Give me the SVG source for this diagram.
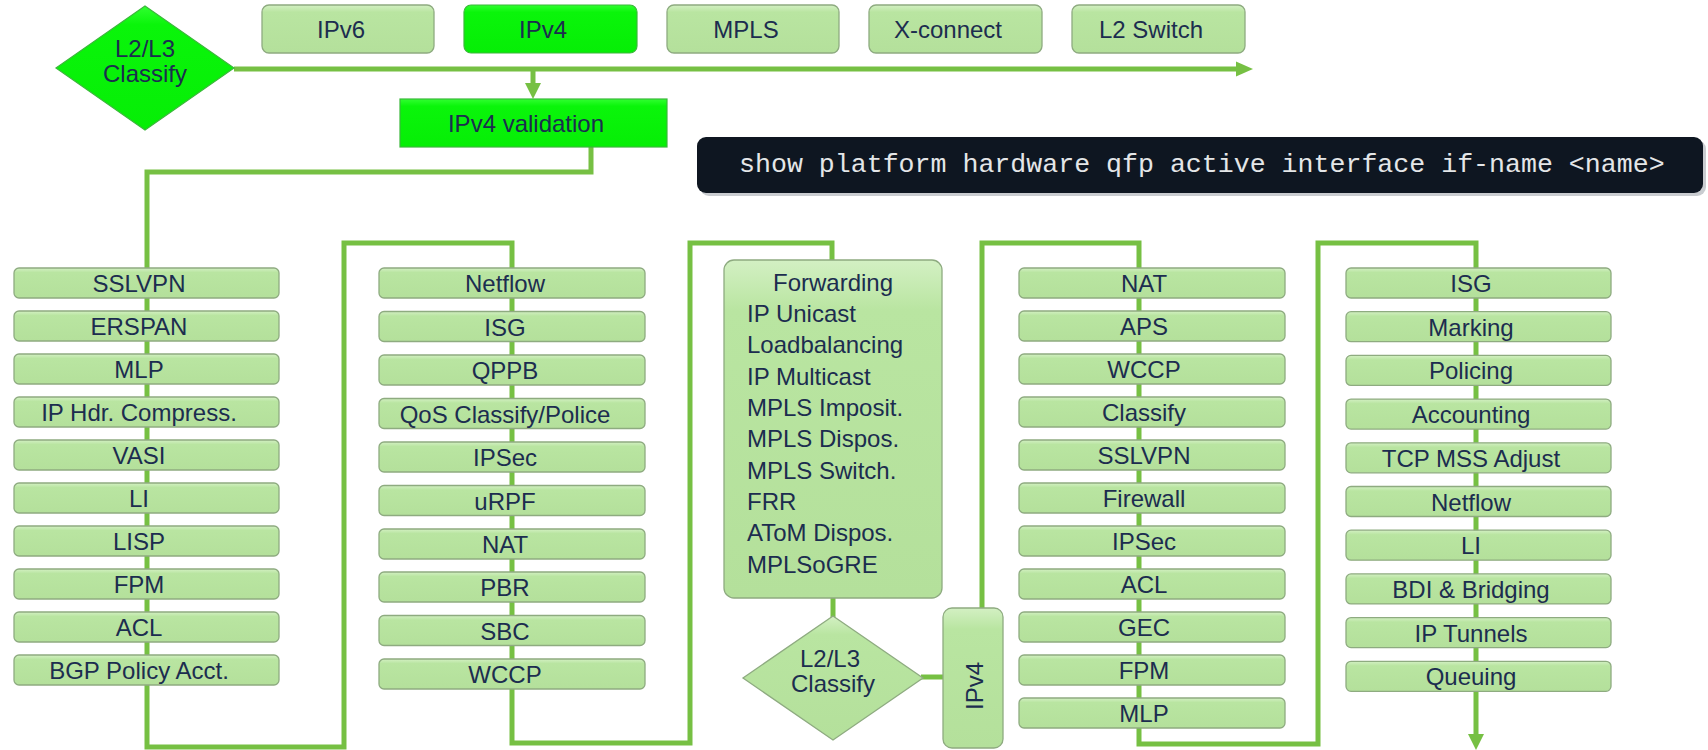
<svg xmlns="http://www.w3.org/2000/svg" width="1708" height="750" viewBox="0 0 1708 750">
<defs>
<linearGradient id="lg" x1="0" y1="0" x2="0" y2="1">
<stop offset="0" stop-color="#d3f0c3"/>
<stop offset="0.15" stop-color="#b9e5a1"/>
<stop offset="1" stop-color="#b4e09b"/>
</linearGradient>
<linearGradient id="bg" x1="0" y1="0" x2="0" y2="1">
<stop offset="0" stop-color="#30ff30"/>
<stop offset="0.15" stop-color="#0af50a"/>
<stop offset="1" stop-color="#06ee06"/>
</linearGradient>
<style>
.b{fill:url(#lg);stroke:#8eab80;stroke-width:1.3}
.g{fill:url(#bg);stroke:#3bb83b;stroke-width:1.2}
.t{font-family:"Liberation Sans",Arial,sans-serif;font-size:24px;fill:#1c2d4f;text-anchor:middle}
.f{font-family:"Liberation Sans",Arial,sans-serif;font-size:24px;fill:#1c2d4f}
.c{fill:none;stroke:#76c043;stroke-width:5;stroke-linejoin:miter}
.a{fill:#76c043}
.m{font-family:"Liberation Mono","Courier New",monospace;font-size:26.6px;fill:#e4e6e8}
</style>
</defs>
<rect width="1708" height="750" fill="#ffffff"/>

<g id="connectors">
<path class="c" d="M234,69 H1238"/>
<polygon class="a" points="1236,61.5 1253,69 1236,76.5"/>
<path class="c" d="M533,69 V85"/>
<polygon class="a" points="525,83 541,83 533,99"/>
<path class="c" d="M591,147 V172 H147 V747 H344 V243 H512 V743 H690 V243 H832 V262"/>
<path class="c" d="M833,596 V618"/>
<path class="c" d="M921,677 H945"/>
<path class="c" d="M982,610 V243 H1139 V744 H1318 V243 H1476 V736"/>
<polygon class="a" points="1468,734 1484,734 1476,750"/>
</g>

<g id="classify1">
<polygon class="g" points="145,6 234,68 145,130 56,68"/>
<text class="t" x="145" y="57">L2/L3</text>
<text class="t" x="145" y="82">Classify</text>
</g>

<g id="top-ipv6"><rect class="b" x="262" y="5" width="172" height="48" rx="7"/><text class="t" x="341" y="38">IPv6</text></g>
<g id="top-ipv4"><rect class="g" x="464" y="5" width="173" height="48" rx="7"/><text class="t" x="543" y="38">IPv4</text></g>
<g id="top-mpls"><rect class="b" x="667" y="5" width="172" height="48" rx="7"/><text class="t" x="746" y="38">MPLS</text></g>
<g id="top-xconnect"><rect class="b" x="869" y="5" width="173" height="48" rx="7"/><text class="t" x="948" y="38">X-connect</text></g>
<g id="top-l2switch"><rect class="b" x="1072" y="5" width="173" height="48" rx="7"/><text class="t" x="1151" y="38">L2 Switch</text></g>

<g id="ipv4-validation"><rect class="g" x="400" y="99" width="267" height="48"/><text class="t" x="526" y="132">IPv4 validation</text></g>

<g id="command">
<rect x="700" y="140" width="1006" height="56" rx="9" fill="#c9ccd0"/>
<rect x="697" y="137" width="1006" height="56" rx="9" fill="#0e1621"/>
<text class="m" x="739" y="172">show platform hardware qfp active interface if-name &lt;name&gt;</text>
</g>

<g id="col1">
<g id="c1-sslvpn"><rect class="b" x="14" y="268" width="265" height="30" rx="5"/><text class="t" x="139" y="292">SSLVPN</text></g>
<g id="c1-erspan"><rect class="b" x="14" y="311" width="265" height="30" rx="5"/><text class="t" x="139" y="335">ERSPAN</text></g>
<g id="c1-mlp"><rect class="b" x="14" y="354" width="265" height="30" rx="5"/><text class="t" x="139" y="378">MLP</text></g>
<g id="c1-iphdr"><rect class="b" x="14" y="397" width="265" height="30" rx="5"/><text class="t" x="139" y="421">IP Hdr. Compress.</text></g>
<g id="c1-vasi"><rect class="b" x="14" y="440" width="265" height="30" rx="5"/><text class="t" x="139" y="464">VASI</text></g>
<g id="c1-li"><rect class="b" x="14" y="483" width="265" height="30" rx="5"/><text class="t" x="139" y="507">LI</text></g>
<g id="c1-lisp"><rect class="b" x="14" y="526" width="265" height="30" rx="5"/><text class="t" x="139" y="550">LISP</text></g>
<g id="c1-fpm"><rect class="b" x="14" y="569" width="265" height="30" rx="5"/><text class="t" x="139" y="593">FPM</text></g>
<g id="c1-acl"><rect class="b" x="14" y="612" width="265" height="30" rx="5"/><text class="t" x="139" y="636">ACL</text></g>
<g id="c1-bgp"><rect class="b" x="14" y="655" width="265" height="30" rx="5"/><text class="t" x="139" y="679">BGP Policy Acct.</text></g>
</g>

<g id="col2">
<g id="c2-netflow"><rect class="b" x="379" y="268" width="266" height="30" rx="5"/><text class="t" x="505" y="292">Netflow</text></g>
<g id="c2-isg"><rect class="b" x="379" y="311.5" width="266" height="30" rx="5"/><text class="t" x="505" y="335.5">ISG</text></g>
<g id="c2-qppb"><rect class="b" x="379" y="355" width="266" height="30" rx="5"/><text class="t" x="505" y="379">QPPB</text></g>
<g id="c2-qos"><rect class="b" x="379" y="398.5" width="266" height="30" rx="5"/><text class="t" x="505" y="422.5">QoS Classify/Police</text></g>
<g id="c2-ipsec"><rect class="b" x="379" y="442" width="266" height="30" rx="5"/><text class="t" x="505" y="466">IPSec</text></g>
<g id="c2-urpf"><rect class="b" x="379" y="485.5" width="266" height="30" rx="5"/><text class="t" x="505" y="509.5">uRPF</text></g>
<g id="c2-nat"><rect class="b" x="379" y="529" width="266" height="30" rx="5"/><text class="t" x="505" y="553">NAT</text></g>
<g id="c2-pbr"><rect class="b" x="379" y="572" width="266" height="30" rx="5"/><text class="t" x="505" y="596">PBR</text></g>
<g id="c2-sbc"><rect class="b" x="379" y="615.5" width="266" height="30" rx="5"/><text class="t" x="505" y="639.5">SBC</text></g>
<g id="c2-wccp"><rect class="b" x="379" y="659" width="266" height="30" rx="5"/><text class="t" x="505" y="683">WCCP</text></g>
</g>

<g id="forwarding">
<rect class="b" x="724" y="260" width="218" height="338" rx="10"/>
<text class="t" x="833" y="291">Forwarding</text>
<text class="f" x="747" y="322">IP Unicast</text>
<text class="f" x="747" y="353">Loadbalancing</text>
<text class="f" x="747" y="385">IP Multicast</text>
<text class="f" x="747" y="416">MPLS Imposit.</text>
<text class="f" x="747" y="447">MPLS Dispos.</text>
<text class="f" x="747" y="479">MPLS Switch.</text>
<text class="f" x="747" y="510">FRR</text>
<text class="f" x="747" y="541">AToM Dispos.</text>
<text class="f" x="747" y="573">MPLSoGRE</text>
</g>

<g id="classify2">
<polygon class="b" points="833,616 923,678 833,740 743,678"/>
<text class="t" x="830" y="667">L2/L3</text>
<text class="t" x="833" y="692">Classify</text>
</g>

<g id="ipv4-side">
<rect class="b" x="943" y="608" width="60" height="140" rx="9"/>
<text class="t" transform="translate(983,686) rotate(-90)" x="0" y="0">IPv4</text>
</g>

<g id="col4">
<g id="c4-nat"><rect class="b" x="1019" y="268" width="266" height="30" rx="5"/><text class="t" x="1144" y="292">NAT</text></g>
<g id="c4-aps"><rect class="b" x="1019" y="311" width="266" height="30" rx="5"/><text class="t" x="1144" y="335">APS</text></g>
<g id="c4-wccp"><rect class="b" x="1019" y="354" width="266" height="30" rx="5"/><text class="t" x="1144" y="378">WCCP</text></g>
<g id="c4-classify"><rect class="b" x="1019" y="397" width="266" height="30" rx="5"/><text class="t" x="1144" y="421">Classify</text></g>
<g id="c4-sslvpn"><rect class="b" x="1019" y="440" width="266" height="30" rx="5"/><text class="t" x="1144" y="464">SSLVPN</text></g>
<g id="c4-firewall"><rect class="b" x="1019" y="483" width="266" height="30" rx="5"/><text class="t" x="1144" y="507">Firewall</text></g>
<g id="c4-ipsec"><rect class="b" x="1019" y="526" width="266" height="30" rx="5"/><text class="t" x="1144" y="550">IPSec</text></g>
<g id="c4-acl"><rect class="b" x="1019" y="569" width="266" height="30" rx="5"/><text class="t" x="1144" y="593">ACL</text></g>
<g id="c4-gec"><rect class="b" x="1019" y="612" width="266" height="30" rx="5"/><text class="t" x="1144" y="636">GEC</text></g>
<g id="c4-fpm"><rect class="b" x="1019" y="655" width="266" height="30" rx="5"/><text class="t" x="1144" y="679">FPM</text></g>
<g id="c4-mlp"><rect class="b" x="1019" y="698" width="266" height="30" rx="5"/><text class="t" x="1144" y="722">MLP</text></g>
</g>

<g id="col5">
<g id="c5-isg"><rect class="b" x="1346" y="268" width="265" height="30" rx="5"/><text class="t" x="1471" y="292">ISG</text></g>
<g id="c5-marking"><rect class="b" x="1346" y="311.7" width="265" height="30" rx="5"/><text class="t" x="1471" y="335.7">Marking</text></g>
<g id="c5-policing"><rect class="b" x="1346" y="355.4" width="265" height="30" rx="5"/><text class="t" x="1471" y="379.4">Policing</text></g>
<g id="c5-accounting"><rect class="b" x="1346" y="399.1" width="265" height="30" rx="5"/><text class="t" x="1471" y="423.1">Accounting</text></g>
<g id="c5-tcpmss"><rect class="b" x="1346" y="442.8" width="265" height="30" rx="5"/><text class="t" x="1471" y="466.8">TCP MSS Adjust</text></g>
<g id="c5-netflow"><rect class="b" x="1346" y="486.5" width="265" height="30" rx="5"/><text class="t" x="1471" y="510.5">Netflow</text></g>
<g id="c5-li"><rect class="b" x="1346" y="530.2" width="265" height="30" rx="5"/><text class="t" x="1471" y="554.2">LI</text></g>
<g id="c5-bdi"><rect class="b" x="1346" y="573.9" width="265" height="30" rx="5"/><text class="t" x="1471" y="597.9">BDI &amp; Bridging</text></g>
<g id="c5-iptunnels"><rect class="b" x="1346" y="617.6" width="265" height="30" rx="5"/><text class="t" x="1471" y="641.6">IP Tunnels</text></g>
<g id="c5-queuing"><rect class="b" x="1346" y="661.3" width="265" height="30" rx="5"/><text class="t" x="1471" y="685.3">Queuing</text></g>
</g>
</svg>
